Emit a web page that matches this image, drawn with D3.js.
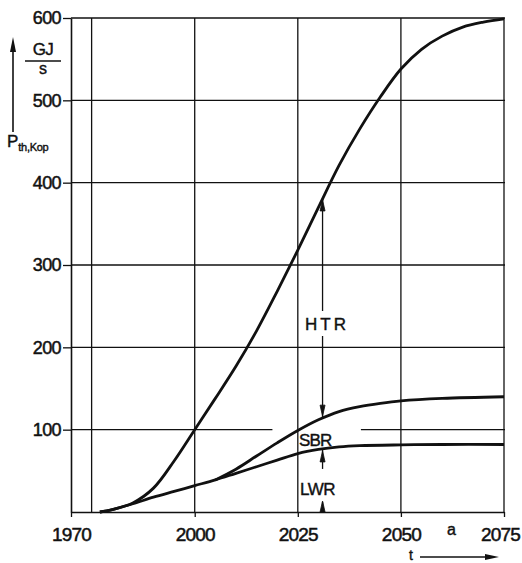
<!DOCTYPE html>
<html>
<head>
<meta charset="utf-8">
<script src="https://cdn.jsdelivr.net/npm/d3@7"></script>
<style>
  body { margin: 0; background: white; }
  text { font-family: "Liberation Sans", Arial, sans-serif; fill: #111; }
</style>
</head>
<body>
<div id="chart"></div>
<script>
// data (cumulative upper edges of each band)
let totalYears = [1977, 1980, 1985, 1990, 1995, 2000, 2005, 2010, 2015, 2020, 2025, 2030, 2035, 2040, 2045, 2050, 2055, 2060, 2065, 2070, 2075];
let totalValues = [0, 3, 11, 29, 62, 100, 138, 177, 220, 268, 318, 370, 421, 465, 504, 538, 562, 578, 589, 595, 599];

let sbrYears = [2005, 2010, 2015, 2020, 2025, 2030, 2035, 2040, 2045, 2050, 2060, 2075];
let sbrValues = [39, 52, 68, 84, 99, 112, 122, 128, 132, 135, 138, 140];

let lwrYears = [1977, 1980, 1985, 1990, 1995, 2000, 2005, 2010, 2015, 2020, 2025, 2030, 2035, 2040, 2050, 2060, 2075];
let lwrValues = [0, 3, 10, 18, 25, 32, 39, 47, 55, 63, 71, 76, 79, 80.5, 81.5, 82, 82];

let xTicks = [1970, 2000, 2025, 2050, 2075];
let xGrid = [1975, 2000, 2025, 2050, 2075];
let yTicks = [100, 200, 300, 400, 500, 600];
let markYear = 2031;

let W = 522, H = 563;
let margin = { top: 18, left: 71, right: 18, bottom: 51 };

let svg = d3.select("#chart").append("svg")
  .attr("width", W)
  .attr("height", H)
  .style("background-color", "white");

let x = d3.scaleLinear().domain([1970, 2075]).range([margin.left, W - margin.right]);
let y = d3.scaleLinear().domain([0, 600]).range([H - margin.bottom, margin.top]);

let ink = "#111";

// grid lines
svg.append("g").selectAll("line")
  .data(xGrid)
  .join("line")
  .attr("x1", d => x(d)).attr("x2", d => x(d))
  .attr("y1", y(600)).attr("y2", y(0))
  .attr("stroke", ink).attr("stroke-width", 1.3);

// horizontal grid, the 100 line is broken where SBR sits
let hSegs = [];
yTicks.forEach(function (v) {
  if (v === 100) {
    hSegs.push({ v: v, a: 1970, b: 2018.6 });
    hSegs.push({ v: v, a: 2040.3, b: 2075 });
  } else {
    hSegs.push({ v: v, a: 1970, b: 2075 });
  }
});
svg.append("g").selectAll("line")
  .data(hSegs)
  .join("line")
  .attr("x1", d => x(d.a)).attr("x2", d => x(d.b) + 1)
  .attr("y1", d => y(d.v)).attr("y2", d => y(d.v))
  .attr("stroke", ink).attr("stroke-width", 1.3);

// axes
let yAxis = svg.append("g")
  .attr("transform", `translate(${x(1970)},0)`)
  .call(d3.axisLeft(y).tickValues(yTicks).tickSize(8).tickSizeOuter(0).tickPadding(2));
yAxis.select(".domain").attr("stroke", ink).attr("stroke-width", 1.6);
yAxis.selectAll(".tick line").attr("stroke", ink).attr("stroke-width", 1.3);
yAxis.selectAll(".tick text")
  .style("font-size", "18px")
  .style("letter-spacing", "-0.6px")
  .attr("fill", ink).attr("stroke", ink).attr("stroke-width", 0.5);

let xAxis = svg.append("g")
  .attr("transform", `translate(0,${y(0)})`)
  .call(d3.axisBottom(x).tickValues(xTicks).tickSize(5).tickSizeOuter(0).tickPadding(11).tickFormat(d3.format("d")));
xAxis.select(".domain").attr("stroke", ink).attr("stroke-width", 1.6);
xAxis.selectAll(".tick line").attr("stroke", ink).attr("stroke-width", 1.3);
xAxis.selectAll(".tick text")
  .style("font-size", "19px")
  .style("letter-spacing", "-0.8px")
  .attr("fill", ink).attr("stroke", ink).attr("stroke-width", 0.5)
  .attr("dx", d => d === 2075 ? -4 : 0);

// curves
let line = d3.line()
  .x(d => x(d[0]))
  .y(d => y(d[1]))
  .curve(d3.curveCatmullRom.alpha(0.5));

let series = [
  d3.zip(totalYears, totalValues),
  d3.zip(sbrYears, sbrValues),
  d3.zip(lwrYears, lwrValues)
];
svg.append("g").selectAll("path")
  .data(series)
  .join("path")
  .attr("d", line)
  .attr("fill", "none")
  .attr("stroke", ink)
  .attr("stroke-width", 2.8)
  .attr("stroke-linejoin", "round");

// dimension arrows at markYear
function valueAt(yrs, vals, t) {
  return d3.scaleLinear().domain(yrs).range(vals)(t);
}
let mx = x(markYear);
let topV = valueAt(totalYears, totalValues, markYear);
let sbrV = valueAt(sbrYears, sbrValues, markYear);
let lwrV = valueAt(lwrYears, lwrValues, markYear);

let ann = svg.append("g").attr("stroke", ink).attr("fill", ink);
function arrowHead(tipY, dir) {
  // dir -1 = pointing up, +1 = pointing down
  let b = tipY - dir * 11;
  ann.append("path")
    .attr("d", `M${mx},${tipY} L${mx - 2.5},${b} L${mx + 2.5},${b} Z`)
    .attr("stroke-width", 0.8);
}
function shaft(y1, y2) {
  ann.append("line")
    .attr("x1", mx).attr("x2", mx)
    .attr("y1", y1).attr("y2", y2)
    .attr("stroke-width", 1.3);
}
// HTR span, broken round the label
shaft(y(topV), 311);
shaft(336, y(sbrV));
arrowHead(y(topV) + 1, -1);
arrowHead(y(sbrV) - 2, 1);
// LWR span
shaft(y(lwrV), y(lwrV) + 20);
arrowHead(y(lwrV) + 2, -1);
shaft(y(0) - 10, y(0));
arrowHead(y(0) - 11, -1);

// band labels
let labelStyle = function (sel, size) {
  sel.style("font-size", size + "px").attr("fill", ink).attr("stroke", ink).attr("stroke-width", 0.4);
};
svg.append("text").attr("x", 305).attr("y", 330).text("HTR")
  .style("letter-spacing", "3px").call(labelStyle, 17);
svg.append("text").attr("x", 299).attr("y", 446).text("SBR")
  .style("letter-spacing", "-0.8px").call(labelStyle, 17);
svg.append("text").attr("x", 300).attr("y", 495).text("LWR")
  .style("letter-spacing", "-0.5px").call(labelStyle, 17);

// y axis title: arrow, GJ/s, P_th,Kop
svg.append("line").attr("x1", 13).attr("x2", 13).attr("y1", 132).attr("y2", 48)
  .attr("stroke", ink).attr("stroke-width", 1.6);
svg.append("path").attr("d", "M13,37 L10,52 L16,52 Z").attr("fill", ink);
svg.append("text").attr("x", 43).attr("y", 55).attr("text-anchor", "middle").text("GJ")
  .style("letter-spacing", "-0.5px").call(labelStyle, 17);
svg.append("line").attr("x1", 25).attr("x2", 61).attr("y1", 61).attr("y2", 61)
  .attr("stroke", ink).attr("stroke-width", 1.6);
svg.append("text").attr("x", 43).attr("y", 74).attr("text-anchor", "middle").text("s")
  .call(labelStyle, 16);
let pt = svg.append("text").attr("x", 7).attr("y", 147).call(labelStyle, 17);
pt.append("tspan").text("P");
pt.append("tspan").attr("dy", 4).style("font-size", "11px").style("letter-spacing", "-0.3px").text("th,Kop");

// x axis title: a and t with arrow
svg.append("text").attr("x", 447).attr("y", 535).text("a").call(labelStyle, 16);
svg.append("text").attr("x", 409).attr("y", 560).text("t").call(labelStyle, 14);
svg.append("line").attr("x1", 420).attr("x2", 488).attr("y1", 557).attr("y2", 557)
  .attr("stroke", ink).attr("stroke-width", 1.6);
svg.append("path").attr("d", "M499,557 L485,554 L485,560 Z").attr("fill", ink);
</script>
</body>
</html>
